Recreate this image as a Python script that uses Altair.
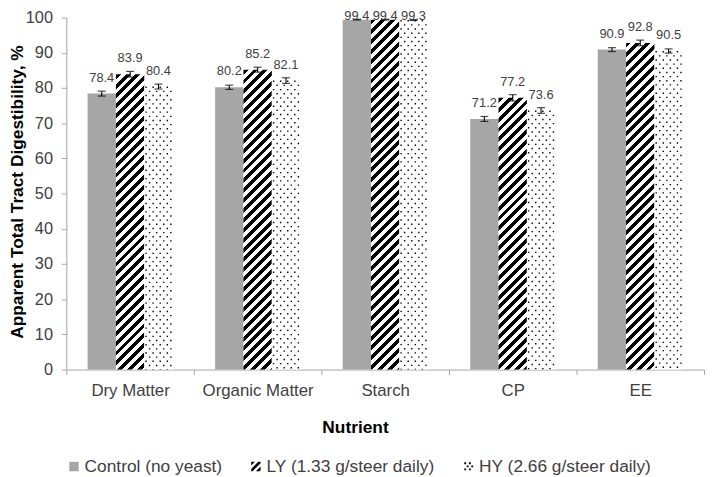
import altair as alt
import pandas as pd

# ---------------- data ----------------
nutrients = ["Dry Matter", "Organic Matter", "Starch", "CP", "EE"]
groups = ["Control (no yeast)", "LY (1.33 g/steer daily)", "HY (2.66 g/steer daily)"]
control = [78.4, 80.2, 99.4, 71.2, 90.9]
ly = [83.9, 85.2, 99.4, 77.2, 92.8]
hy = [80.4, 82.1, 99.3, 73.6, 90.5]
se_control = [0.7, 0.6, 0.1, 0.7, 0.55]
se_ly = [0.8, 0.7, 0.1, 0.9, 0.8]
se_hy = [0.7, 0.8, 0.1, 0.8, 0.6]

rows = []
for g, vals, ses in zip(groups, [control, ly, hy], [se_control, se_ly, se_hy]):
    for n, v, s in zip(nutrients, vals, ses):
        rows.append({"nutrient": n, "group": g, "value": v, "se": s,
                     "lo": v - s, "hi": v + s})
df = pd.DataFrame(rows)

# ---------------- layout ----------------
W, H = 645, 356
PAD_OUT = 0.75
STEP = W / len(nutrients)
SUB = STEP / (len(groups) + 2 * PAD_OUT)

FONT = "Liberation Sans"
TXT = "#404040"
AXC = "#a6a6a6"
YTITLE = "Apparent Total Tract Digestibility, %"

xscale = alt.Scale(domain=nutrients, paddingInner=0, paddingOuter=0)
offscale = alt.Scale(domain=groups, paddingInner=0, paddingOuter=PAD_OUT)
yscale = alt.Scale(domain=[0, 100], nice=False)

xaxis = alt.Axis(labelAngle=0, labelFontSize=17, labelColor=TXT, labelPadding=8,
                 tickBand="extent", tickSize=5, tickColor=AXC, domainColor=AXC,
                 labelLimit=250, grid=False,
                 titleFontSize=17.5, titleFontWeight="bold", titleColor="#000000",
                 titleX=292, titleY=64, titleBaseline="alphabetic", titleAlign="center")
yaxis = alt.Axis(values=list(range(0, 101, 10)), labelFontSize=16.5, labelColor=TXT,
                 labelPadding=9, tickSize=5, tickColor=AXC, domainColor=AXC, grid=False,
                 titleFontSize=17.5, titleFontWeight="bold", titleColor="#000000",
                 titleX=-49, titleY=176, titleAngle=270, titleAlign="center",
                 titleBaseline="middle")


def X(**kw):
    return alt.X("nutrient:N", sort=nutrients, scale=xscale, axis=xaxis, title="Nutrient", **kw)


def XO():
    return alt.XOffset("group:N", sort=groups, scale=offscale)


def Y(field):
    return alt.Y(field, scale=yscale, axis=yaxis, title=YTITLE)


base = alt.Chart(df)

# control bars
ctrl = base.transform_filter(alt.datum.group == groups[0]).mark_bar(
    fill="#a6a6a6").encode(x=X(), xOffset=XO(), y=Y("value:Q"))


# striped LY bars: a hard-stop linear gradient per bar, 45 degree stripes
def stripe_gradient(value, period=10.0, black_frac=0.5):
    w = SUB
    h = value / 100 * H
    L = w + h
    stops = [{"offset": 0, "color": "#000000"}]
    cur = "#000000"
    k = 0
    while True:
        e = (k * period + black_frac * period) / L
        if e >= 1:
            break
        stops += [{"offset": round(e, 5), "color": "#000000"},
                  {"offset": round(e, 5), "color": "#ffffff"}]
        cur = "#ffffff"
        s = ((k + 1) * period) / L
        if s >= 1:
            break
        stops += [{"offset": round(s, 5), "color": "#ffffff"},
                  {"offset": round(s, 5), "color": "#000000"}]
        cur = "#000000"
        k += 1
    stops.append({"offset": 1, "color": cur})
    d = w * w + h * h
    return {"gradient": "linear", "x1": 0, "y1": 0,
            "x2": round(w * L / d, 6), "y2": round(h * L / d, 6), "stops": stops}


ly_layers = []
for n, v in zip(nutrients, ly):
    ly_layers.append(
        base.transform_filter((alt.datum.group == groups[1]) & (alt.datum.nutrient == n))
        .mark_bar(fill=stripe_gradient(v))
        .encode(x=X(), xOffset=XO(), y=Y("value:Q"))
    )

# HY bars: white with dotted texture
hy_bar = base.transform_filter(alt.datum.group == groups[2]).mark_bar(
    fill="#ffffff").encode(x=X(), xOffset=XO(), y=Y("value:Q"))

hy_start = PAD_OUT * SUB + 2 * SUB
ncol = 8
dot_layers = []
for i in range(ncol):
    bp = (hy_start + SUB / ncol * (i + 0.5)) / STEP
    dot_layers.append(
        base.transform_filter(alt.datum.group == groups[2])
        .mark_rule(color="#000000", strokeWidth=1.4, strokeDash=[1.4, 7.0],
                   strokeDashOffset=(0 if i % 2 == 0 else 4.2), strokeCap="butt")
        .encode(x=X(bandPosition=bp), y=Y("value:Q"), y2=alt.datum(0))
    )

# error bars
err = base.mark_rule(color="#000000", strokeWidth=1.1).encode(
    x=X(), xOffset=XO(), y=Y("lo:Q"), y2="hi:Q")
cap_lo = base.mark_tick(color="#000000", size=8, thickness=1.2).encode(
    x=X(), xOffset=XO(), y=Y("lo:Q"))
cap_hi = base.mark_tick(color="#000000", size=8, thickness=1.2).encode(
    x=X(), xOffset=XO(), y=Y("hi:Q"))

# value labels
labels = base.transform_calculate(
    label_y="min(datum.value + 3.4, 99.4)"
).mark_text(fontSize=13, color=TXT, baseline="alphabetic", align="center").encode(
    x=X(), xOffset=XO(), y=Y("label_y:Q"), text=alt.Text("value:Q", format=".1f"))

# legend (invisible points carrying the legend symbols)
sq = "M-1,-1H1V1H-1Z"
stripes = ("M-1,-1L-0.2,-1L-1,-0.2Z "
           "M-1,0.5L0.5,-1L1,-1L1,-0.7L-0.7,1L-1,1Z "
           "M1,0L1,0.8L0.8,1L0,1Z")
dots = ""
for (cx, cy) in [(-0.7, -0.7), (0.3, -0.7), (-0.2, -0.05), (0.8, -0.05), (-0.7, 0.6), (0.3, 0.6)]:
    dots += f"M{cx-0.2:.2f},{cy-0.2:.2f}H{cx+0.2:.2f}V{cy+0.2:.2f}H{cx-0.2:.2f}Z "
leg = alt.Legend(orient="none", legendX=-1, legendY=445, direction="horizontal", title=None,
                 labelFontSize=17.5, labelColor=TXT, labelFont=FONT, symbolSize=90,
                 symbolOpacity=1, symbolStrokeWidth=0, columnPadding=25, labelOffset=2,
                 labelLimit=300, padding=0)
legend_layer = base.mark_point(filled=True, opacity=0, size=1).encode(
    x=X(), xOffset=XO(), y=Y("value:Q"),
    fill=alt.Fill("group:N", sort=groups,
                  scale=alt.Scale(domain=groups, range=["#a6a6a6", "#000000", "#000000"]),
                  legend=leg),
    shape=alt.Shape("group:N", sort=groups,
                    scale=alt.Scale(domain=groups, range=[sq, stripes, dots.strip()]),
                    legend=leg),
)

chart = alt.layer(
    ctrl, *ly_layers, hy_bar, *dot_layers, err, cap_lo, cap_hi, labels, legend_layer
).properties(
    width=W, height=H,
    autosize=alt.AutoSizeParams(type="none"),
    padding={"left": 59, "top": 7, "right": 2, "bottom": 106},
).configure(font=FONT).configure_view(stroke=None)

chart.save("out.html", embed_options={"renderer": "svg", "actions": False})
